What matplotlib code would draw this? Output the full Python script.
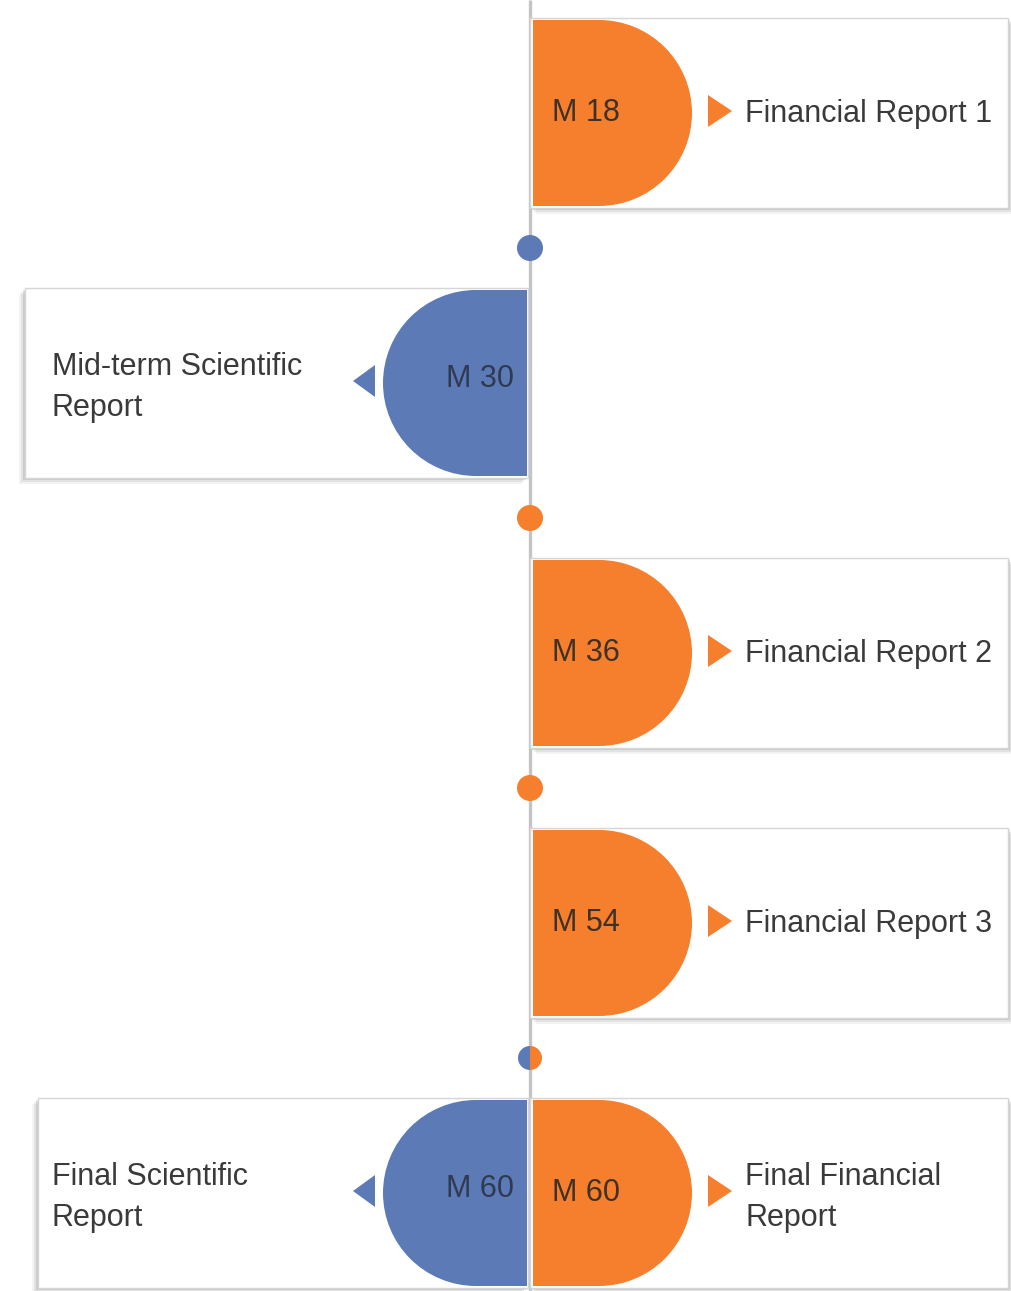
import matplotlib.pyplot as plt
from matplotlib.patches import Rectangle, Wedge, Circle, Polygon

# milestone data
months = [18, 30, 36, 54, 60, 60]
labels = ["Financial Report 1", "Mid-term Scientific\nReport", "Financial Report 2",
          "Financial Report 3", "Final Scientific\nReport", "Final Financial\nReport"]
kinds = ["financial", "scientific", "financial", "financial", "scientific", "financial"]
rows = [0, 1, 2, 3, 4, 4]

ORANGE = '#F57F2C'
BLUE = '#5C7BB6'
colors = {"financial": ORANGE, "scientific": BLUE}
TXT = '#3a3a3a'
FONT = 'Liberation Sans'
FS = 22

W, H = 1011, 1291
fig = plt.figure(figsize=(W / 100, H / 100), dpi=100)
ax = fig.add_axes([0, 0, 1, 1])
ax.set_xlim(0, W)
ax.set_ylim(H, 0)
ax.set_aspect('equal')
ax.axis('off')

X0 = 530          # timeline axis
Y0, STEP = 113, 270
BOX_H = 190
R = 93

# vertical timeline
ax.plot([X0, X0], [0, H], color='#c4c4c4', lw=2.4, zorder=1, solid_capstyle='butt')


def draw_box(side, yc, left_edge):
    top = yc - BOX_H / 2
    if side > 0:
        x1, x2 = X0, 1008
    else:
        x1, x2 = left_edge, X0 - 2
    # soft shadow
    for k, a in enumerate([0.10, 0.16, 0.26]):
        off = 6 - k * 2
        ax.add_patch(Rectangle((x1 + (off if side > 0 else -off), top + off), x2 - x1, BOX_H,
                               facecolor='#8f8f8f', edgecolor='none', alpha=a, zorder=2))
    ax.add_patch(Rectangle((x1, top), x2 - x1, BOX_H, facecolor='white',
                           edgecolor='#d6d6d6', lw=1.0, zorder=3))


def draw_d(side, yc, color):
    if side > 0:
        cx = X0 + 3 + 66
        ax.add_patch(Rectangle((X0 + 3, yc - R), cx - X0 - 3, 2 * R, facecolor=color,
                               edgecolor='none', zorder=4))
        ax.add_patch(Wedge((cx, yc), R, -90, 90, facecolor=color, edgecolor='none', zorder=4))
    else:
        cx = X0 - 3 - 51
        ax.add_patch(Rectangle((cx, yc - R), X0 - 3 - cx, 2 * R, facecolor=color,
                               edgecolor='none', zorder=4))
        ax.add_patch(Wedge((cx, yc), R, 90, 270, facecolor=color, edgecolor='none', zorder=4))
    return cx


def draw_label(side, yc, text, color):
    lines = text.split('\n')
    if side > 0:
        tx = X0 + 178
        ax.add_patch(Polygon([(tx, yc - 16), (tx, yc + 16), (tx + 24, yc)], closed=True,
                             facecolor=color, edgecolor='none', zorder=5))
        lx = tx + 37
    else:
        tx = X0 - 155
        ax.add_patch(Polygon([(tx, yc - 16), (tx, yc + 16), (tx - 22, yc)], closed=True,
                             facecolor=color, edgecolor='none', zorder=5))
        lx = 52
    if len(lines) == 1:
        bases = [yc + 11]
    else:
        bases = [yc - 6, yc + 35]
    for ln, b in zip(lines, bases):
        ax.text(lx, b, ln, ha='left', va='baseline', fontsize=FS, color=TXT,
                family=FONT, zorder=6)


for m, lab, kind, r in zip(months, labels, kinds, rows):
    yc = Y0 + r * STEP
    side = 1 if kind == "financial" else -1
    col = colors[kind]
    left_edge = 25 if r < 4 else 38
    draw_box(side, yc, left_edge)
    draw_d(side, yc, col)
    draw_label(side, yc - 2, lab, col)
    if side > 0:
        ax.text(X0 + 22, yc + 8, f"M {m}", ha='left', va='baseline', fontsize=FS,
                color='#3d3128', family=FONT, zorder=6)
    else:
        ax.text(X0 - 16, yc + 4, f"M {m}", ha='right', va='baseline', fontsize=FS,
                color='#2f3a52', family=FONT, zorder=6)

# connector dots between rows, coloured by the following milestone(s)
for r in range(1, max(rows) + 1):
    yd = Y0 + r * STEP - STEP / 2
    nxt = [colors[k] for k, rr in zip(kinds, rows) if rr == r]
    if len(nxt) == 1:
        ax.add_patch(Circle((X0, yd), 13, facecolor=nxt[0], edgecolor='none', zorder=7))
    else:
        ax.add_patch(Wedge((X0, yd), 12, 90, 270, facecolor=colors["scientific"],
                           edgecolor='none', zorder=7))
        ax.add_patch(Wedge((X0, yd), 12, -90, 90, facecolor=colors["financial"],
                           edgecolor='none', zorder=7))

fig.savefig('out.png', dpi=100, facecolor='white')
